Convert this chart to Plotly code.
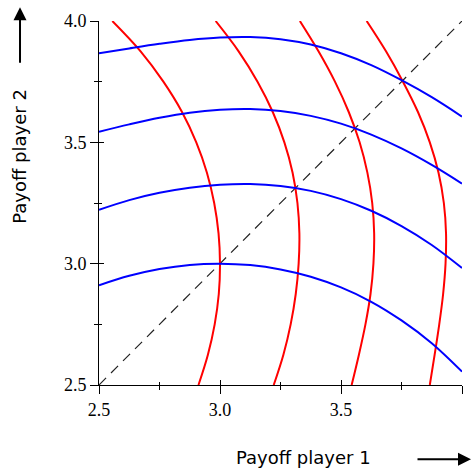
import plotly.graph_objects as go

# Payoff grid along the own-payoff axis
grid = [2.5, 2.625, 2.75, 2.875, 3.0, 3.125, 3.25, 3.375, 3.5, 3.625, 3.75, 3.875, 4.0]

# Indifference curves of player 2 (payoff 2 as a function of payoff 1)
level_1 = [2.911, 2.950, 2.978, 2.995, 3.000, 2.994, 2.976, 2.946, 2.902, 2.843, 2.766, 2.672, 2.555]
level_2 = [3.222, 3.262, 3.292, 3.313, 3.325, 3.328, 3.320, 3.300, 3.266, 3.218, 3.155, 3.077, 2.982]
level_3 = [3.544, 3.574, 3.601, 3.622, 3.634, 3.637, 3.629, 3.609, 3.577, 3.532, 3.475, 3.407, 3.330]
level_4 = [3.867, 3.887, 3.906, 3.922, 3.932, 3.934, 3.925, 3.903, 3.867, 3.818, 3.756, 3.686, 3.606]
levels = [level_1, level_2, level_3, level_4]

# Axis ticks
major_ticks = [2.5, 3.0, 3.5, 4.0]
minor_ticks = [2.75, 3.25, 3.75]
tick_text = ["2.5", "3.0", "3.5", "4.0"]
axis_range = [2.5, 4.0]

fig = go.Figure()

# 45-degree line of equal payoffs
fig.add_trace(go.Scatter(x=axis_range, y=axis_range, mode="lines",
                         line=dict(color="#222222", width=1.2, dash="10px,7px"),
                         hoverinfo="skip", showlegend=False))

# Player 1 curves: the symmetric game mirrors player 2's curves
for lv in levels:
    fig.add_trace(go.Scatter(x=lv, y=grid, mode="lines",
                             line=dict(color="#ff0000", width=2, shape="spline", smoothing=1),
                             showlegend=False))

for lv in levels:
    fig.add_trace(go.Scatter(x=grid, y=lv, mode="lines",
                             line=dict(color="#0000ff", width=2, shape="spline", smoothing=1),
                             showlegend=False))

# Empty trace to host the overlay axes that carry the inner halves of the ticks
fig.add_trace(go.Scatter(x=[], y=[], xaxis="x2", yaxis="y2", showlegend=False))

tick_font = dict(family="Liberation Serif", size=18, color="black")

common = dict(range=axis_range, showgrid=False, zeroline=False, fixedrange=True)

fig.update_layout(
    width=473, height=471,
    margin=dict(l=99, r=11, t=21, b=86),
    paper_bgcolor="white", plot_bgcolor="white",
    showlegend=False,
    xaxis=dict(**common, tickvals=major_ticks, ticktext=tick_text, ticks="outside",
               ticklen=8, tickwidth=1, tickcolor="black", showline=True,
               linecolor="black", linewidth=1, tickfont=tick_font,
               minor=dict(tickvals=minor_ticks, ticks="outside", ticklen=4,
                          tickwidth=1, tickcolor="black")),
    yaxis=dict(**common, tickvals=major_ticks, ticktext=tick_text, ticks="outside",
               ticklen=8, tickwidth=1, tickcolor="black", showline=True,
               linecolor="black", linewidth=1, tickfont=tick_font,
               minor=dict(tickvals=minor_ticks, ticks="outside", ticklen=4,
                          tickwidth=1, tickcolor="black")),
    xaxis2=dict(**common, overlaying="x", anchor="y2", side="bottom",
                tickvals=major_ticks, ticks="inside", ticklen=5, tickwidth=1,
                tickcolor="black", showticklabels=False, showline=False,
                minor=dict(tickvals=minor_ticks, ticks="inside", ticklen=3,
                           tickwidth=1, tickcolor="black")),
    yaxis2=dict(**common, overlaying="y", anchor="x2", side="left",
                tickvals=major_ticks, ticks="inside", ticklen=5, tickwidth=1,
                tickcolor="black", showticklabels=False, showline=False,
                minor=dict(tickvals=minor_ticks, ticks="inside", ticklen=3,
                           tickwidth=1, tickcolor="black")),
)

title_font = dict(family="DejaVu Sans", size=18, color="black")

fig.add_annotation(text="Payoff player 1", xref="paper", yref="paper",
                   x=0.562, y=-0.198, xanchor="center", yanchor="middle",
                   showarrow=False, font=title_font)
fig.add_annotation(text="Payoff player 2", xref="paper", yref="paper",
                   x=-0.2176, y=0.627, xanchor="center", yanchor="middle",
                   textangle=-90, showarrow=False, font=title_font)

# Direction arrows next to the axis titles
fig.add_annotation(text="", xref="paper", yref="paper", x=-0.2176, y=1.038,
                   ax=0, ay=57, axref="pixel", ayref="pixel", showarrow=True,
                   arrowhead=2, arrowsize=1.3, arrowwidth=2, arrowcolor="black")
fig.add_annotation(text="", xref="paper", yref="paper", x=1.0248, y=-0.204,
                   ax=-55, ay=0, axref="pixel", ayref="pixel", showarrow=True,
                   arrowhead=2, arrowsize=1.3, arrowwidth=2, arrowcolor="black")

fig.write_html("out.html")
